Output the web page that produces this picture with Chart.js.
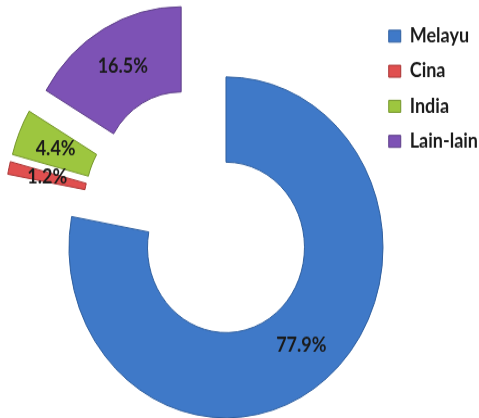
<!DOCTYPE html>
<html>
<head>
<meta charset="utf-8">
<script src="https://cdn.jsdelivr.net/npm/chart.js@4"></script>
<style>
    html, body { margin: 0; padding: 0; background: #fff; height: 418px; overflow: hidden; }
    /* the original picture is stretched vertically */
    #grafico { display: block; transform: scaleY(1.0857); transform-origin: 0 0; }
</style>
</head>
<body>
<canvas id="grafico" width="479" height="385"></canvas>
<script>
const categorias = ["Melayu", "Cina", "India", "Lain-lain"];
const percentagem = [77.9, 1.2, 4.4, 16.5];
const cores = ["#3f79c8", "#e04f4f", "#9dc63f", "#7d52b5"];
const bordas = ["#2f5f9f", "#a83434", "#74952a", "#5d3e88"];

const EXPLODE = 39.5; // every slice pushed out by the same distance

// move each slice out along its own mid angle (same as an exploded doughnut)
const explodir = {
    id: 'explodir',
    afterDatasetsUpdate(chart) {
        chart.getDatasetMeta(0).data.forEach(arc => {
            const meio = (arc.startAngle + arc.endAngle) / 2;
            arc.x += Math.cos(meio) * EXPLODE;
            arc.y += Math.sin(meio) * EXPLODE;
        });
    }
};

// percentage labels in the middle of each slice
const rotulos = {
    id: 'rotulos',
    afterDatasetsDraw(chart) {
        const c = chart.ctx;
        c.save();
        c.font = "bold 18px Lato, 'DejaVu Sans', sans-serif";
        c.fillStyle = "#1a1a1a";
        c.textAlign = "center";
        c.textBaseline = "middle";
        chart.getDatasetMeta(0).data.forEach((arc, i) => {
            const p = arc.getCenterPoint();
            c.fillText(percentagem[i].toFixed(1) + "%", p.x, p.y);
        });
        c.restore();
    }
};

document.addEventListener("DOMContentLoaded", () => {
    const ctx = document.getElementById('grafico').getContext('2d');

    const dados = {
        labels: categorias,
        datasets: [{
            data: percentagem,
            backgroundColor: cores,
            borderColor: bordas,
            borderWidth: 1,
            clip: false
        }]
    };

    const config = {
        type: 'doughnut',
        data: dados,
        options: {
            responsive: false,
            devicePixelRatio: 1,
            animation: false,
            events: [],
            radius: 157,
            cutout: '50%',
            layout: {
                padding: { left: 27, right: -9, top: 10, bottom: 0 }
            },
            plugins: {
                tooltip: { enabled: false },
                legend: {
                    position: 'right',
                    align: 'start',
                    labels: {
                        boxWidth: 12,
                        boxHeight: 11,
                        padding: 14.3,
                        color: '#1a1a1a',
                        font: { family: "Lato, 'DejaVu Sans', sans-serif", size: 18, weight: 'bold' }
                    }
                }
            }
        },
        plugins: [explodir, rotulos]
    };

    new Chart(ctx, config);
});
</script>
</body>
</html>
